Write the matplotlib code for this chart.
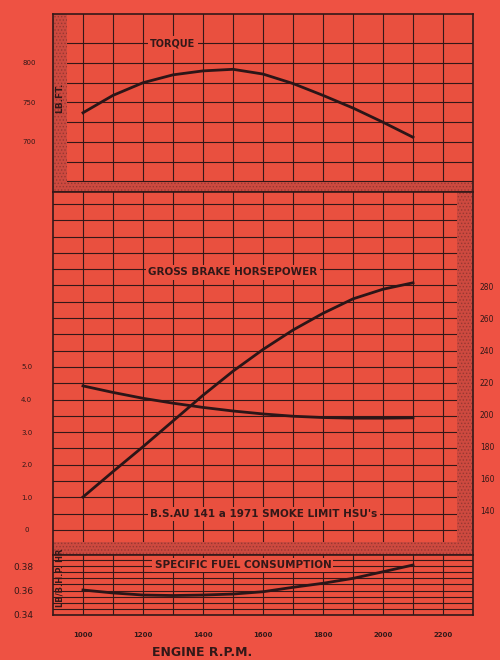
import matplotlib
matplotlib.use("Agg")
import matplotlib.pyplot as plt
from matplotlib import font_manager
from matplotlib.patches import Rectangle

# engine data
rpm = [1000, 1100, 1200, 1300, 1400, 1500, 1600, 1700, 1800, 1900, 2000, 2100]
torque = [737, 759, 775, 785, 790, 792, 786, 774, 759, 743, 725, 706]
bhp = [148.7, 164.5, 180, 196, 212, 227, 240.5, 252.6, 263, 272, 278, 282]
smoke = [4.42, 4.22, 4.04, 3.89, 3.76, 3.65, 3.56, 3.49, 3.45, 3.43, 3.43, 3.44]
sfc = [0.3604, 0.358, 0.3563, 0.3559, 0.3563, 0.3571, 0.359, 0.3626, 0.3659, 0.3699, 0.3753, 0.3808]

rpm_ticks = [1000, 1200, 1400, 1600, 1800, 2000, 2200]
torque_ticks = [700, 750, 800]
smoke_ticks = [0, 1, 2, 3, 4, 5]
smoke_labels = ["0", "1.0", "2.0", "3.0", "4.0", "5.0"]
bhp_ticks = [140, 160, 180, 200, 220, 240, 260, 280]
sfc_ticks = [0.34, 0.36, 0.38]

bg = "#e9503f"
ink = "#331818"
curve = "#2b1517"
strip_face = "#cd493f"
strip_dots = "#973832"

names = {f.name for f in font_manager.fontManager.ttflist}
cond = "Liberation Sans Narrow" if "Liberation Sans Narrow" in names else "DejaVu Sans"

plt.rcParams["hatch.linewidth"] = 0.6

fig = plt.figure(figsize=(5, 6.6), dpi=100, facecolor="#ee5243")

W, H = 500, 660
ax_top = fig.add_axes([53 / W, 1 - 192 / H, 420 / W, 178 / H])
ax_mid = fig.add_axes([53 / W, 1 - 555 / H, 420 / W, 363 / H])
ax_bot = fig.add_axes([53 / W, 1 - 615 / H, 420 / W, 60 / H])

for ax in (ax_top, ax_mid, ax_bot):
    ax.set_facecolor(bg)
    ax.set_xlim(900, 2300)
    ax.set_xticks(range(1000, 2300, 100))
    ax.tick_params(length=0, colors=ink)
    ax.grid(True, color=ink, lw=0.8)
    ax.set_axisbelow(True)
    for s in ax.spines.values():
        s.set_color(ink)
        s.set_linewidth(1.2)

ax_top.tick_params(labelbottom=False)
ax_mid.tick_params(labelbottom=False)

# torque panel
ax_top.set_ylim(636.7, 862)
ax_top.set_yticks(range(650, 850, 25),
                  [str(v) if v in torque_ticks else "" for v in range(650, 850, 25)])
ax_top.tick_params(axis="y", pad=17, labelsize=5)
for lb in ax_top.get_yticklabels():
    lb.set_horizontalalignment("center")
ax_top.plot(rpm, torque, color=curve, lw=2, zorder=3)
ax_top.add_patch(Rectangle((900, 636.7), 1400, 13, facecolor=strip_face, edgecolor=strip_dots,
                           hatch=".....", lw=0, zorder=1.5))
ax_top.add_patch(Rectangle((900, 636.7), 47, 230, facecolor=strip_face, edgecolor=strip_dots,
                           hatch=".....", lw=0, zorder=1.5))
ax_top.text(1300, 825, "TORQUE", ha="center", va="center", fontsize=7, fontweight="bold",
            family=cond, color=ink, bbox=dict(facecolor=bg, edgecolor="none", pad=1.5))
ax_top.text(923, 756, "LB.FT.", rotation=90, ha="center", va="center", fontsize=6.5,
            fontweight="bold", color=ink, zorder=4)

# horsepower / smoke panel
ax_mid.set_ylim(-0.767, 10.368)
mid_grid = [k * 0.5 for k in range(-1, 21)]
ax_mid.set_yticks(mid_grid,
                  [smoke_labels[smoke_ticks.index(v)] if v in smoke_ticks else "" for v in mid_grid])
ax_mid.tick_params(axis="y", pad=19, labelsize=5)
for lb in ax_mid.get_yticklabels():
    lb.set_horizontalalignment("center")
ax_mid.plot(rpm, smoke, color=curve, lw=2, zorder=3)

ax_hp = ax_mid.twinx()
ax_hp.set_ylim(112.6, 338.5)
ax_hp.set_yticks(bhp_ticks)
ax_hp.tick_params(length=0, pad=5, labelsize=5.5, colors=ink)
for s in ax_hp.spines.values():
    s.set_visible(False)
ax_hp.plot(rpm, bhp, color=curve, lw=2, zorder=3)

ax_mid.add_patch(Rectangle((900, -0.767), 1400, 0.4, facecolor=strip_face, edgecolor=strip_dots,
                           hatch=".....", lw=0, zorder=1.5))
ax_mid.add_patch(Rectangle((2247, -0.767), 53, 11.2, facecolor=strip_face, edgecolor=strip_dots,
                           hatch=".....", lw=0, zorder=1.5))
ax_mid.text(1500, 7.9, "GROSS BRAKE HORSEPOWER", ha="center", va="center", fontsize=7.5,
            fontweight="bold", family=cond, color=ink,
            bbox=dict(facecolor=bg, edgecolor="none", pad=1.5))
ax_mid.text(1603, 0.5, "B.S.AU 141 a 1971 SMOKE LIMIT HSU's", ha="center", va="center",
            fontsize=7.5, fontweight="bold", family=cond, color=ink,
            bbox=dict(facecolor=bg, edgecolor="none", pad=1.5))

# fuel consumption panel
ax_bot.set_ylim(0.34, 0.38898)
sfc_grid = [0.34 + k * 0.005 for k in range(10)]
ax_bot.set_yticks(sfc_grid, ["%.2f" % v if k % 4 == 0 else "" for k, v in enumerate(sfc_grid)])
ax_bot.tick_params(axis="y", pad=21, labelsize=6.5)
for lb in ax_bot.get_yticklabels():
    lb.set_horizontalalignment("center")
ax_bot.set_xticks(range(1000, 2300, 100),
                  [str(v) if v in rpm_ticks else "" for v in range(1000, 2300, 100)])
ax_bot.tick_params(axis="x", pad=12, labelsize=5)
for lb in ax_bot.get_xticklabels():
    lb.set_fontweight("bold")
ax_bot.plot(rpm, sfc, color=curve, lw=2, zorder=3)
ax_bot.text(1533, 0.3808, "SPECIFIC FUEL CONSUMPTION", ha="center", va="center", fontsize=7.5,
            fontweight="bold", family=cond, color=ink,
            bbox=dict(facecolor=bg, edgecolor="none", pad=1.5))

fig.text(60 / W, 1 - 578 / H, "LB/B.H.P. HR", rotation=90, ha="center", va="center",
         fontsize=6, fontweight="bold", color=ink, zorder=5)
fig.text(202 / W, 1 - 652 / H, "ENGINE R.P.M.", ha="center", va="center", fontsize=9,
         fontweight="bold", family=cond, color=ink)

fig.savefig("out.png", dpi=100, facecolor=fig.get_facecolor())
